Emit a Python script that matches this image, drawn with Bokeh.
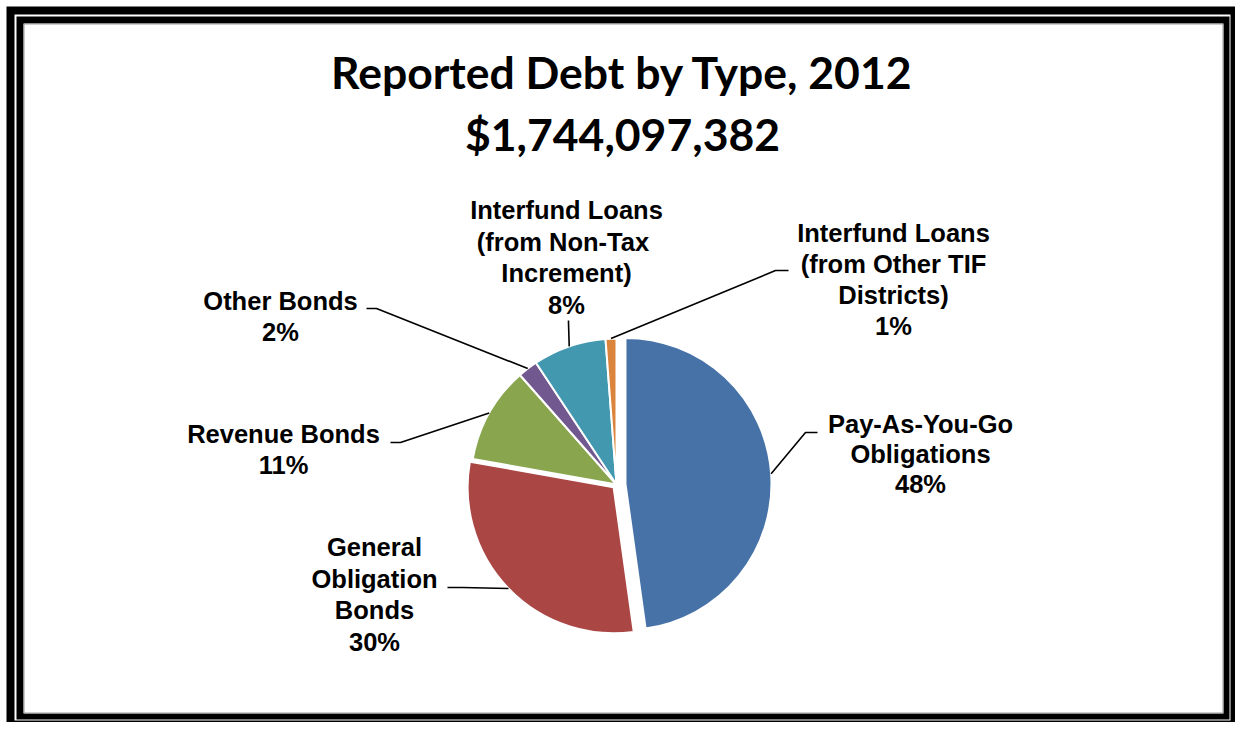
import math
from bokeh.plotting import figure
from bokeh.models import Range1d, ColumnDataSource
from bokeh.embed import file_html
from bokeh.resources import INLINE
from bokeh.core.properties import value

# ---------------- data ----------------
title_lines = ["Reported Debt by Type, 2012", "$1,744,097,382"]
categories = [
    "Pay-As-You-Go Obligations",
    "General Obligation Bonds",
    "Revenue Bonds",
    "Other Bonds",
    "Interfund Loans (from Non-Tax Increment)",
    "Interfund Loans (from Other TIF Districts)",
]
label_lines = [
    ["Pay-As-You-Go", "Obligations"],
    ["General", "Obligation", "Bonds"],
    ["Revenue Bonds"],
    ["Other Bonds"],
    ["Interfund Loans", "(from  Non-Tax", "Increment)"],
    ["Interfund Loans", "(from Other TIF", "Districts)"],
]
shares = [47.8, 30.0, 10.7, 2.2, 8.1, 1.2]   # percent of total debt
colors = ["#4672A8", "#AA4644", "#89A54E", "#71588F", "#4198AF", "#DB843D"]

# ---------------- layout (image pixel coordinates) ----------------
IMG_H = 730
def Y(img_y):
    return IMG_H - img_y

explode = [9, 4, 0, 0, 0, 0]
CX, CY, R = 616, Y(484), 146
LABEL_SHIFT = 9.5   # renderer places alphabetic baseline lower than requested
TITLE_SHIFT = 17
label_anchor = [(920, 433), (374, 556), (283, 443), (280, 310), (566, 219), (893, 242)]
line_step = [30, 31.5, 31, 31, 31.5, 31]
leader_elbow = [(805, 432), (462, 587), (400, 442), (376, 308), (568, 322), (775, 270)]
leader_end = [(817, 432), (447, 587), (390, 442), (366, 308), (568, 320), (788, 270)]

W, H = 1235, 722
p = figure(width=W, height=H, x_range=Range1d(0, W), y_range=Range1d(Y(H), Y(0)),
           output_backend="svg", toolbar_location=None, min_border=0)
p.axis.visible = False
p.grid.visible = False
p.outline_line_color = None
p.background_fill_color = "white"
p.border_fill_color = "white"

# double black frame (left, right, top, bottom in image px)
frames = [((6, 1235, 6, 722), "black"), ((14, 1230, 14, 720), "white"),
          ((16, 1229, 16, 719), "black"), ((23, 1223, 23, 713), "white")]
for (l, r, t, b), c in frames:
    p.quad(left=[l], right=[r], top=[Y(t)], bottom=[Y(b)], fill_color=c, line_color=None)
p.quad(left=[23.5], right=[1222.5], top=[Y(23.5)], bottom=[Y(712.5)], fill_color=None,
       line_color="#9a9a9a", line_width=1)

# pie
total = sum(shares)
cum = 0.0
wx, wy, sa, ea, mids = [], [], [], [], []
for i, v in enumerate(shares):
    f0 = cum / total
    cum += v
    f1 = cum / total
    mid = 2 * math.pi * (f0 + f1) / 2
    cx = CX + explode[i] * math.sin(mid)
    cy = CY + explode[i] * math.cos(mid)
    wx.append(cx)
    wy.append(cy)
    sa.append(math.pi / 2 - 2 * math.pi * f1)
    ea.append(math.pi / 2 - 2 * math.pi * f0)
    mids.append(mid)

src = ColumnDataSource(dict(x=wx, y=wy, start=sa, end=ea, color=colors, cat=categories))
p.wedge(x="x", y="y", radius=R, start_angle="start", end_angle="end", direction="anticlock",
        fill_color="color", line_color="white", line_width=2, source=src)

# leader lines
xs, ys = [], []
for i in range(len(shares)):
    sx = wx[i] + R * math.sin(mids[i])
    sy = wy[i] + R * math.cos(mids[i])
    ex, ey = leader_elbow[i]
    tx, ty = leader_end[i]
    xs.append([sx, ex, tx])
    ys.append([sy, Y(ey), Y(ty)])
p.multi_line(xs=xs, ys=ys, line_color="black", line_width=1.6)

# data labels
tx, ty, tt = [], [], []
for i, lines in enumerate(label_lines):
    ax, ay = label_anchor[i]
    pct = round(shares[i] / total * 100)
    allines = lines + [f"{pct}%"]
    for k, s in enumerate(allines):
        tx.append(ax)
        ty.append(Y(ay + k * line_step[i] - LABEL_SHIFT))
        tt.append(s)
p.text(x=tx, y=ty, text=tt, text_font=value("Liberation Sans"), text_font_style="bold",
       text_font_size="25.5px", text_align="center", text_baseline="alphabetic", text_color="black")

# title
p.text(x=[622, 622], y=[Y(88 - TITLE_SHIFT), Y(150 - TITLE_SHIFT)], text=title_lines,
       text_font=value("Lato"), text_font_style="bold", text_font_size="44.5px",
       text_align="center", text_baseline="alphabetic", text_color="black")

open("out.html", "w").write(file_html(p, INLINE))
